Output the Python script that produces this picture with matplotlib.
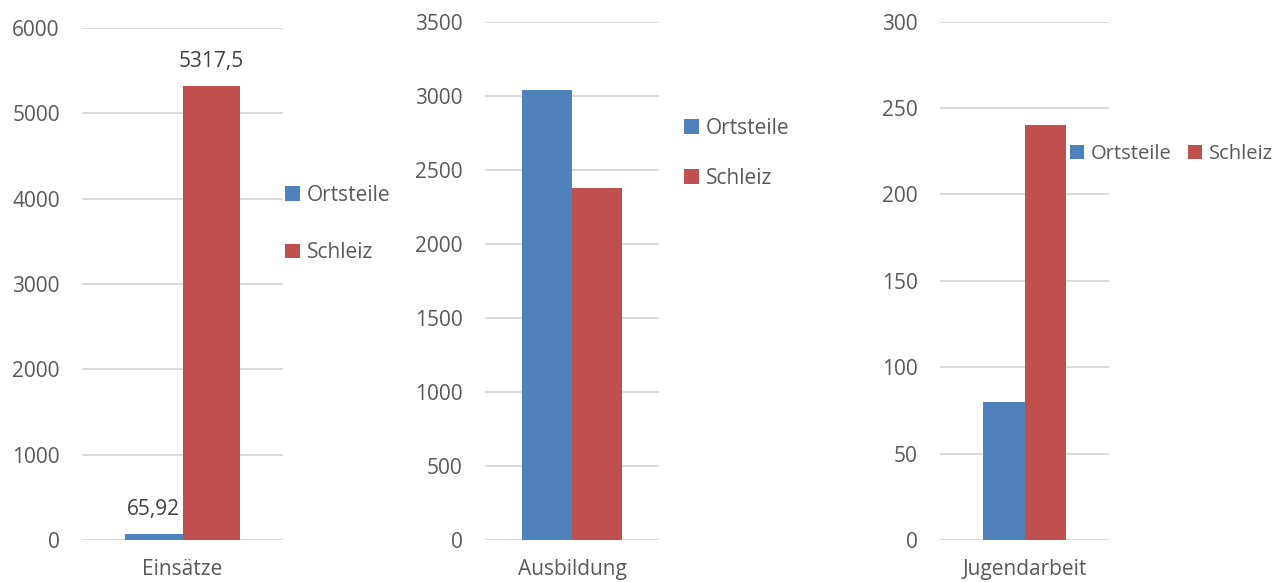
import matplotlib
matplotlib.use("Agg")
import matplotlib.pyplot as plt

# data
categories = ["Einsätze", "Ausbildung", "Jugendarbeit"]
series = ["Ortsteile", "Schleiz"]
ortsteile = [65.92, 3040, 80]
schleiz = [5317.5, 2375, 240]
y_max = [6000, 3500, 300]
y_step = [1000, 500, 50]
bar_labels = [("65,92", "5317,5"), None, None]

blue = "#4F81BD"
red = "#C0504D"
text_col = "#595959"
grid_col = "#D9D9D9"

plt.rcParams["font.family"] = ["Open Sans", "DejaVu Sans"]
plt.rcParams["font.size"] = 15

W, H = 1284, 582
fig = plt.figure(figsize=(W / 100, H / 100), dpi=100)

# axes boxes in pixels: left, right, top
boxes = [(82, 283, 28), (485, 659, 21.6), (940, 1109, 21.6)]
half_span = [1.75, 1.74, 2.06]
bottom_px = 540


def fig_rect(left, right, top):
    return [left / W, 1 - bottom_px / H, (right - left) / W, (bottom_px - top) / H]


axes = []
for i, cat in enumerate(categories):
    ax = fig.add_axes(fig_rect(*boxes[i]))
    b1 = ax.bar(-0.5, ortsteile[i], 1.0, color=blue, label=series[0], zorder=3)
    b2 = ax.bar(0.5, schleiz[i], 1.0, color=red, label=series[1], zorder=3)
    ax.set_xlim(-half_span[i], half_span[i])
    ax.set_ylim(0, y_max[i])
    ticks = list(range(0, y_max[i] + 1, y_step[i]))
    ax.set_yticks(ticks)
    ax.set_yticklabels([str(t) for t in ticks])
    ax.set_xticks([0])
    ax.set_xticklabels([cat])
    ax.grid(axis="y", color=grid_col, linewidth=1.3, zorder=0)
    for s in ax.spines.values():
        s.set_visible(False)
    ax.tick_params(axis="y", length=0, pad=16, colors=text_col)
    ax.tick_params(axis="x", length=0, pad=14, colors=text_col)
    if bar_labels[i]:
        for rect, txt in zip([b1[0], b2[0]], bar_labels[i]):
            ax.annotate(txt, xy=(rect.get_x() + rect.get_width() / 2, rect.get_height()),
                        xytext=(0, 10), textcoords="offset points",
                        ha="center", va="bottom", color="#404040", fontsize=15)
    axes.append(ax)

# legends
leg_kw = dict(frameon=False, loc="center left", borderpad=0, borderaxespad=0,
              handlelength=0.7, handleheight=0.7, handletextpad=0.35,
              labelcolor=text_col, bbox_transform=fig.transFigure)
axes[0].legend(bbox_to_anchor=(285 / W, 1 - 224 / H), labelspacing=1.75, **leg_kw)
axes[1].legend(bbox_to_anchor=(684 / W, 1 - 153.5 / H), labelspacing=1.4, **leg_kw)
axes[2].legend(bbox_to_anchor=(1070 / W, 1 - 154 / H), ncol=2, columnspacing=0.8,
               prop={"size": 14.5}, **leg_kw)

fig.savefig("out.png", dpi=100)
